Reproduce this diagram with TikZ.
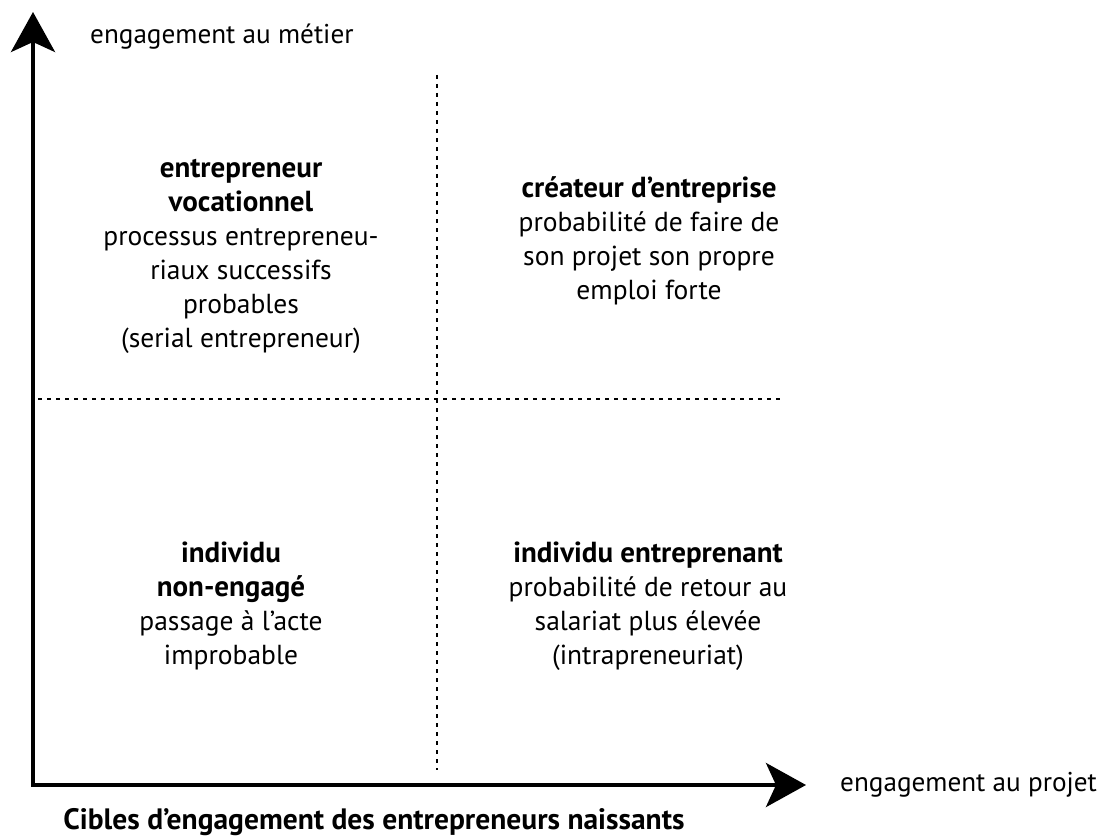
\documentclass[tikz,border=0pt]{standalone}
\usepackage{fontspec}
\setmainfont{PT Sans}
\usetikzlibrary{arrows.meta}
\newcommand\qbold[1]{{\fontsize{29}{34}\selectfont\bfseries #1}}
\begin{document}
\begin{tikzpicture}[x=1pt,y=-1pt,
  axisb/.style={line width=4pt, -{Stealth[width=44pt,length=40pt,inset=10pt]}},
  sep/.style={line width=1.6pt,dash pattern=on 4pt off 5pt},
  quad/.style={align=center,font=\fontsize{27.5}{34}\selectfont},
  lab/.style={inner sep=0pt,font=\fontsize{27.2}{28}\selectfont},
]
\useasboundingbox (0,0) rectangle (1109,840);
\coordinate (O) at (33,785);
\coordinate (ytip) at (33,12);
\coordinate (xtip) at (806,785);
\draw[axisb,line cap=rect] (O) -- (ytip);
\draw[axisb,line cap=rect] (O) -- (xtip);
\coordinate (vt) at (437,75);
\coordinate (vb) at (437,770);
\coordinate (hl) at (38,399);
\coordinate (hr) at (782,399);
\draw[sep] (vt) -- (vb);
\draw[sep] (hl) -- (hr);
\node[lab,anchor=west] (ylab) at (90,37) {engagement au métier};
\node[lab,anchor=west] (xlab) at (840,785) {engagement au projet};
\node[font=\fontsize{29.5}{32}\selectfont\bfseries] (title) at (374,822) {Cibles d’engagement des entrepreneurs naissants};
\node[quad] (tl) at (241,256) {\qbold{entrepreneur}\\\qbold{vocationnel}\\processus entrepreneu-\\riaux successifs\\probables\\(serial entrepreneur)};
\node[quad] (tr) at (649,241) {\qbold{créateur d’entreprise}\\probabilité de faire de\\son projet son propre\\emploi forte};
\node[quad] (bl) at (231,606) {\qbold{individu}\\\qbold{non-engagé}\\passage à l’acte\\improbable};
\node[quad] (br) at (648,606) {\qbold{individu entreprenant}\\probabilité de retour au\\salariat plus élevée\\(intrapreneuriat)};
\end{tikzpicture}
\end{document}
